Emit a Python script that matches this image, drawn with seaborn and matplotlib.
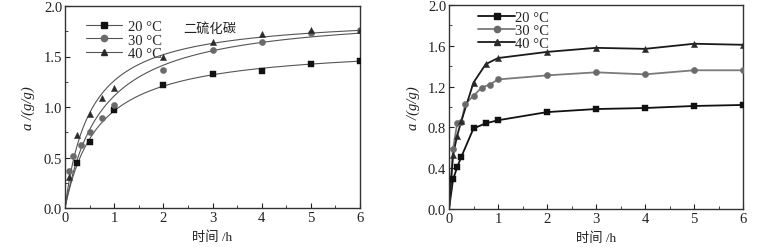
import numpy as np
import pandas as pd
import matplotlib
matplotlib.use("Agg")
import matplotlib.pyplot as plt
from matplotlib.lines import Line2D
from matplotlib.ticker import MultipleLocator
import seaborn as sns

sns.set_theme(style="white")
plt.rcParams['font.family'] = ['Liberation Serif', 'Noto Sans CJK SC', 'DejaVu Sans']

labels = ["20 °C", "30 °C", "40 °C"]

# ---- Left panel (二硫化碳) ----
L_t20 = [0.25, 0.5, 1, 2, 3, 4, 5, 6]
L_a20 = [0.45, 0.65, 0.97, 1.22, 1.33, 1.36, 1.43, 1.46]
L_t30 = [0.083, 0.167, 0.333, 0.5, 0.75, 1, 2, 3, 4, 5, 6]
L_a30 = [0.37, 0.51, 0.62, 0.75, 0.89, 1.02, 1.37, 1.56, 1.64, 1.73, 1.76]
L_t40 = [0.083, 0.25, 0.5, 0.75, 1, 2, 3, 4, 5, 6]
L_a40 = [0.31, 0.72, 0.93, 1.09, 1.19, 1.50, 1.64, 1.72, 1.76, 1.76]

# ---- Right panel ----
R_t20 = [0.083, 0.167, 0.25, 0.5, 0.75, 1, 2, 3, 4, 5, 6]
R_a20 = [0.29, 0.41, 0.51, 0.79, 0.84, 0.87, 0.95, 0.98, 0.99, 1.01, 1.02]
R_t30 = [0.083, 0.167, 0.25, 0.333, 0.5, 0.667, 0.833, 1, 2, 3, 4, 5, 6]
R_a30 = [0.59, 0.84, 0.85, 1.03, 1.11, 1.19, 1.22, 1.27, 1.31, 1.34, 1.32, 1.36, 1.36]
R_t40 = [0.083, 0.167, 0.25, 0.5, 0.75, 1, 2, 3, 4, 5, 6]
R_a40 = [0.53, 0.72, 0.86, 1.24, 1.42, 1.48, 1.54, 1.58, 1.57, 1.62, 1.61]

xticks = [0, 1, 2, 3, 4, 5, 6]
L_yticks = [0.0, 0.5, 1.0, 1.5, 2.0]
R_yticks = [0.0, 0.4, 0.8, 1.2, 1.6, 2.0]

markers = ["s", "o", "^"]
mcolors = ["#111111", "#6a6a6a", "#2a2a2a"]
R_lcolors = ["#111111", "#7a7a7a", "#1a1a1a"]

fig = plt.figure(figsize=(7.77, 2.53), dpi=100)
axL = fig.add_axes([65/777, 1-209/253, 295/777, 202/253])
axR = fig.add_axes([449/777, 1-210/253, 294/777, 204/253])

TICK_FS = 10.5

def style_axis(ax, yticks, yminor):
    ax.set_xlim(0, 6)
    ax.set_ylim(0, 2.0)
    ax.set_xticks(xticks)
    ax.set_yticks(yticks)
    ax.set_xticklabels([str(v) for v in xticks], fontsize=TICK_FS)
    ax.set_yticklabels([f"{v:.1f}" for v in yticks], fontsize=TICK_FS)
    ax.xaxis.set_minor_locator(MultipleLocator(0.5))
    ax.yaxis.set_minor_locator(MultipleLocator(yminor))
    ax.tick_params(which="major", direction="in", length=3.5, width=0.8,
                   colors="#222222", pad=2, bottom=True, left=True)
    ax.tick_params(which="minor", direction="in", length=2, width=0.6,
                   colors="#222222", bottom=True, left=True)
    for s in ax.spines.values():
        s.set_color("#333333")
        s.set_linewidth(1.0)
    ax.set_xlabel("时间 /h", fontsize=9.5, color="#222222", labelpad=5)
    ax.set_ylabel("a /(g/g)", fontsize=10.5, fontstyle="italic", color="#222222", labelpad=6)

# ---- left: pseudo-second-order curves fitted (least squares) to the points ----
def fit_pso(t, a):
    best = None
    for qe in np.linspace(1.0, 3.0, 201):
        for x in np.linspace(0.2, 5.0, 241):
            pred = qe * x * t / (1 + x * t)
            sse = np.sum((pred - a) ** 2)
            if best is None or sse < best[0]:
                best = (sse, qe, x)
    return best[1], best[2]

tgrid = np.linspace(0.0, 6.0, 300)
for t, a, m, c in zip([L_t20, L_t30, L_t40], [L_a20, L_a30, L_a40], markers, mcolors):
    t = np.array(t); a = np.array(a)
    qe, x = fit_pso(t, a)
    fit = qe * x * tgrid / (1 + x * tgrid)
    sns.lineplot(x=tgrid, y=fit, ax=axL, color="#555555", linewidth=0.8)
    sns.scatterplot(x=t, y=a, ax=axL, marker=m, color=c, s=20, edgecolor=c, linewidth=0.3, zorder=3)

style_axis(axL, L_yticks, 0.25)
axL.text(0.40, 0.89, "二硫化碳", transform=axL.transAxes, fontsize=9.5,
         family=['Noto Sans CJK SC'], color="#222222", va="center")
hL = [Line2D([0], [0], color="#555555", lw=0.8, marker=m, markersize=4.5,
             markerfacecolor=c, markeredgecolor=c) for m, c in zip(markers, mcolors)]
axL.legend(hL, labels, loc="upper left", bbox_to_anchor=(0.04, 0.975), frameon=False,
           fontsize=10.5, handlelength=2.5, handletextpad=0.4, labelspacing=0.02,
           borderaxespad=0.2)

# ---- right: lines through points ----
for t, a, m, mc, lc in zip([R_t20, R_t30, R_t40], [R_a20, R_a30, R_a40], markers, mcolors, R_lcolors):
    tl = [0.0] + list(t)
    al = [0.0] + list(a)
    sns.lineplot(x=tl, y=al, ax=axR, color=lc, linewidth=1.3, sort=False)
    sns.scatterplot(x=t, y=a, ax=axR, marker=m, color=mc, s=20, edgecolor=mc, linewidth=0.3, zorder=3)

style_axis(axR, R_yticks, 0.2)
hR = [Line2D([0], [0], color=lc, lw=1.3, marker=m, markersize=4.5,
             markerfacecolor=mc, markeredgecolor=mc) for m, mc, lc in zip(markers, mcolors, R_lcolors)]
axR.legend(hR, labels, loc="upper left", bbox_to_anchor=(0.07, 1.015), frameon=False,
           fontsize=10.5, handlelength=2.5, handletextpad=0.0, labelspacing=0.0,
           borderaxespad=0.2)

fig.savefig("out.png", dpi=100)
